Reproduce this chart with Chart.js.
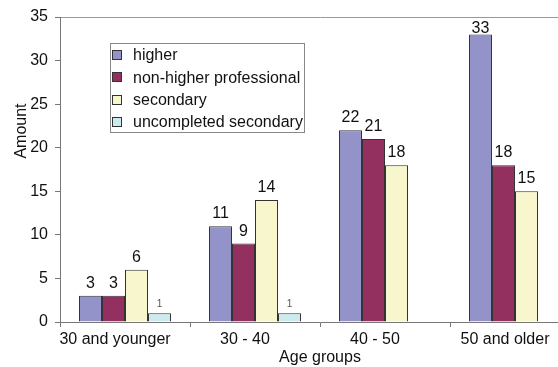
<!DOCTYPE html>
<html>
<head>
<meta charset="utf-8">
<script src="https://cdn.jsdelivr.net/npm/chart.js@4.4.1/dist/chart.umd.min.js"></script>
<style>
  html, body { margin: 0; padding: 0; background: #fff; overflow: hidden; }
  #wrap { width: 558px; height: 367px; overflow: hidden; }
</style>
</head>
<body>
<div id="wrap">
  <canvas id="chart" width="580" height="367"></canvas>
</div>
<script>
// Data
const categories = ['30 and younger', '30 - 40', '40 - 50', '50 and older'];
const seriesNames = ['higher', 'non-higher professional', 'secondary', 'uncompleted secondary'];
const higher = [3, 11, 22, 33];
const nonHigherProfessional = [3, 9, 21, 18];
const secondary = [6, 14, 18, 15];
const uncompletedSecondary = [1, 1, null, null];
const yTicks = [0, 5, 10, 15, 20, 25, 30, 35];

const colors = ['#9393c9', '#933060', '#f8f6cc', '#cdebef'];
const FONT = 'Liberation Sans, Arial, sans-serif';

// Draws the value labels, the y title and the legend box
const extras = {
  id: 'extras',
  afterDatasetsDraw(chart) {
    const ctx = chart.ctx;
    ctx.save();
    ctx.textAlign = 'center';
    ctx.textBaseline = 'alphabetic';
    chart.data.datasets.forEach((ds, i) => {
      const meta = chart.getDatasetMeta(i);
      meta.data.forEach((bar, j) => {
        const v = ds.data[j];
        if (v == null) return;
        if (i === 3) {
          ctx.font = '10px ' + FONT;
          ctx.fillStyle = '#555';
          ctx.fillText(String(v), bar.x, bar.y - 6);
        } else {
          ctx.font = '16px ' + FONT;
          ctx.fillStyle = '#111';
          ctx.fillText(String(v), bar.x, Math.max(bar.y - 8, 32.5));
        }
      });
    });

    // y axis title
    ctx.save();
    ctx.translate(22, 131);
    ctx.rotate(-Math.PI / 2);
    ctx.font = '16px ' + FONT;
    ctx.fillStyle = '#111';
    ctx.textBaseline = 'middle';
    ctx.fillText('Amount', 0, 0);
    ctx.restore();

    // legend
    ctx.fillStyle = '#fff';
    ctx.fillRect(110, 43, 194, 89);
    ctx.strokeStyle = '#888';
    ctx.lineWidth = 1;
    ctx.strokeRect(110.5, 43.5, 194, 89);
    ctx.font = '16px ' + FONT;
    ctx.textAlign = 'left';
    ctx.textBaseline = 'middle';
    seriesNames.forEach((name, i) => {
      const y = 55 + i * 22.3;
      ctx.fillStyle = colors[i];
      ctx.fillRect(112.5, Math.round(y) - 4.5, 9, 9);
      ctx.strokeStyle = '#333';
      ctx.strokeRect(112.5, Math.round(y) - 4.5, 9, 9);
      ctx.fillStyle = '#111';
      ctx.fillText(name, 133, y + 1);
    });
    ctx.restore();
  }
};

const datasets = [higher, nonHigherProfessional, secondary, uncompletedSecondary].map((d, i) => ({
  label: seriesNames[i],
  data: d,
  backgroundColor: colors[i],
  borderColor: '#333',
  borderWidth: 1,
  borderSkipped: 'bottom',
  categoryPercentage: 0.708,
  barPercentage: 1
}));

new Chart(document.getElementById('chart'), {
  type: 'bar',
  data: { labels: categories, datasets: datasets },
  plugins: [extras],
  options: {
    responsive: false,
    animation: false,
    layout: { padding: { top: 17, right: 0, bottom: 0, left: 0 } },
    plugins: { legend: { display: false }, tooltip: { enabled: false } },
    scales: {
      x: {
        afterFit: s => { s.height = 45; },
        grid: { drawOnChartArea: false, tickLength: 5, tickColor: '#777' },
        border: { color: '#777' },
        ticks: { font: { family: FONT, size: 16 }, color: '#111', padding: 3, maxRotation: 0, labelOffset: -10 },
        title: { display: true, text: 'Age groups', font: { family: FONT, size: 16 }, color: '#111', padding: { top: 0, bottom: 0 } }
      },
      y: {
        min: 0,
        max: 35,
        afterFit: s => { s.width = 60; },
        afterBuildTicks: s => { s.ticks = yTicks.map(v => ({ value: v })); },
        grid: {
          color: c => (c.tick && c.tick.value === 35 ? '#999' : 'rgba(0,0,0,0)'),
          tickLength: 5,
          tickColor: '#777'
        },
        border: { color: '#777' },
        ticks: { font: { family: FONT, size: 16 }, color: '#111', padding: 7 }
      }
    }
  }
});
</script>
</body>
</html>
